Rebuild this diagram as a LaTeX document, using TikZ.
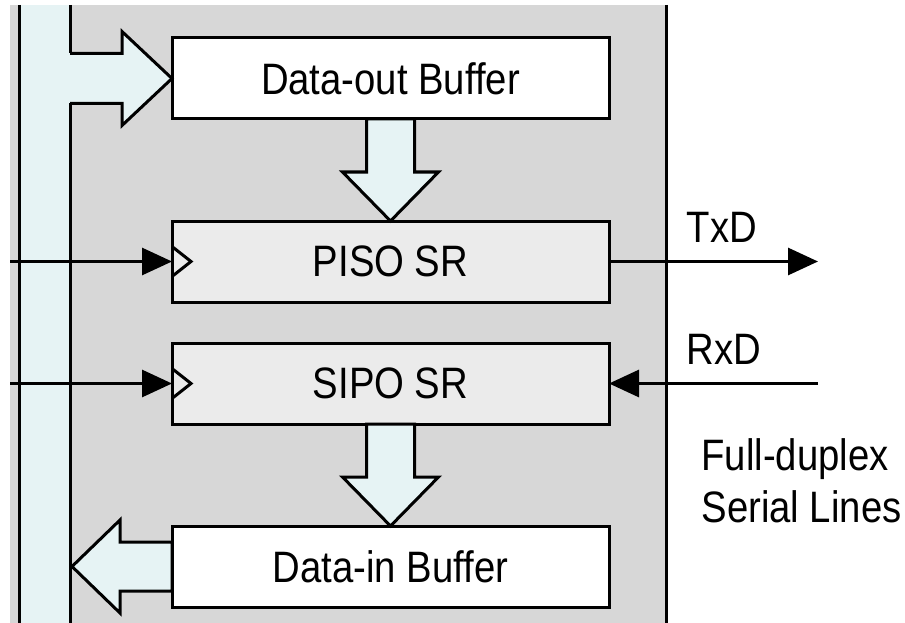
\documentclass[tikz,border=0pt]{standalone}
\usepackage{fontspec}
\setmainfont[FakeStretch=0.87]{Liberation Sans}
\usetikzlibrary{positioning, calc, arrows.meta}
\definecolor{panelgray}{HTML}{D7D7D7}
\definecolor{buscyan}{HTML}{E6F3F4}
\definecolor{reggray}{HTML}{EBEBEB}

\begin{document}
\begin{tikzpicture}[x=1pt, y=-1pt, node distance=102pt, line width=3pt,
		reg/.style={draw, outer sep=0pt, inner sep=0pt, minimum width=437pt, minimum height=81pt, font=\fontsize{44}{52}\selectfont},
		sig/.style={inner sep=0pt, font=\fontsize{44}{52}\selectfont},
		bigarrow/.style={fill=buscyan, draw, line join=miter},
		clk/.style={-{Triangle[length=30pt, width=27pt]}}]
			\useasboundingbox (0,0) rectangle (905,623);
			\fill[panelgray] (10,5) rectangle (666,623);
			\fill[buscyan] (19,5) rectangle (70,623);
			\draw (19,5) -- (19,623);
			\draw (70,5) -- (70,53.5);
			\draw (70,103.5) -- (70,623);
			\draw (666,5) -- (666,623);

			\node[reg, fill=white] (dout) at (390.5,78.5) {Data-out Buffer};
			\node[reg, fill=reggray, below=of dout] (piso) {PISO SR};
			\node[reg, fill=reggray, below=41pt of piso] (sipo) {SIPO SR};
			\node[reg, fill=white, below=of sipo] (din) {Data-in Buffer};

			\coordinate[left=162pt of piso.west] (clkpiso);
			\coordinate[left=162pt of sipo.west] (clksipo);
			\coordinate[right=209pt of piso.east] (txd);
			\coordinate[right=209pt of sipo.east] (rxd);

			\path[bigarrow] ($(dout.west)+(-102,-25)$) -- ++(52,0) -- ++(0,-22) -- (dout.west) -- ($(dout.west)+(-50,47)$) -- ++(0,-22) -- ++(-52,0);
			\path[bigarrow] ($(dout.south)+(-24,0)$) -- ++(0,53) -- ++(-24,0) -- (piso.north) -- ++(48,-49) -- ++(-24,0) -- ++(0,-53) -- cycle;
			\path[bigarrow] ($(sipo.south)+(-24,0)$) -- ++(0,53) -- ++(-24,0) -- (din.north) -- ++(48,-49) -- ++(-24,0) -- ++(0,-53) -- cycle;
			\path[bigarrow] ($(din.west)+(0,-24.5)$) -- ++(-52,0) -- ++(0,-22) -- ++(-48,46.5) -- ++(48,46.5) -- ++(0,-22) -- ++(52,0) -- cycle;

			\draw ($(piso.west)+(0,-15)$) -- ++(19,15) -- ++(-19,15);
			\draw ($(sipo.west)+(0,-15)$) -- ++(19,15) -- ++(-19,15);
			\draw[clk] (clkpiso) -- (piso.west);
			\draw[clk] (clksipo) -- (sipo.west);

			\draw[clk] (piso.east) -- node[sig, above=18pt, pos=0.54] (txdlabel) {TxD} (txd);
			\draw[clk] (rxd) -- node[sig, above=18pt, pos=0.45] (rxdlabel) {RxD} (sipo.east);

			\node[sig, anchor=base west] (full) at (700,470) {Full-duplex};
			\node[sig, below=52pt of full.base west, anchor=base west] (serial) {Serial Lines};
		\end{tikzpicture}
\end{document}
